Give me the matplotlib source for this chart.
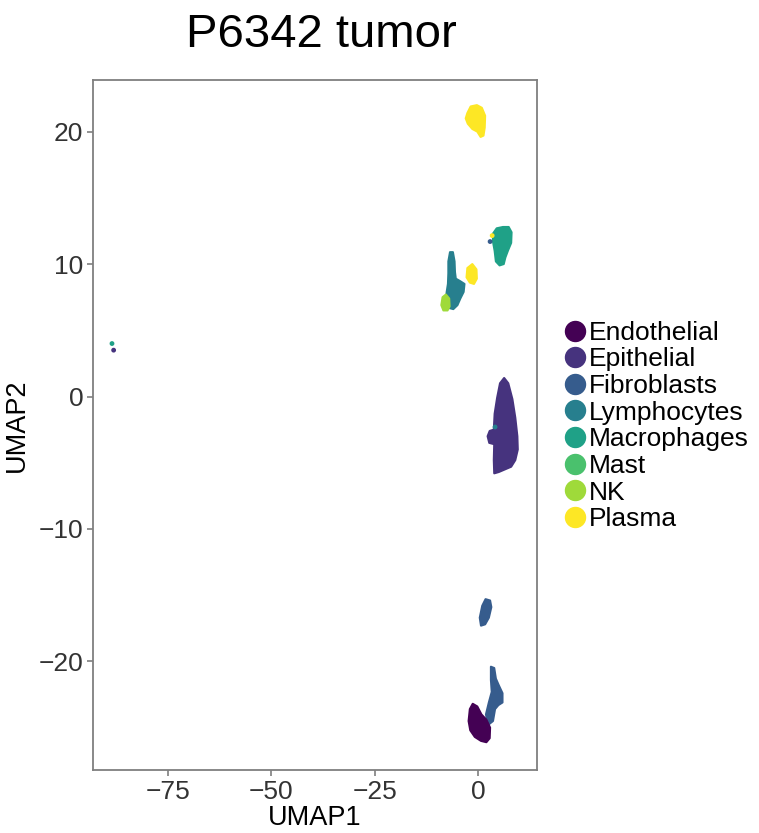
import matplotlib
matplotlib.use('Agg')
import matplotlib.pyplot as plt
from matplotlib.lines import Line2D

plt.rcParams['font.family'] = ['Liberation Sans', 'DejaVu Sans']

#Cell types and their viridis colours
cell_types = ['Endothelial', 'Epithelial', 'Fibroblasts', 'Lymphocytes',
              'Macrophages', 'Mast', 'NK', 'Plasma']
colors = ['#440154', '#46337E', '#365C8D', '#277F8E',
          '#1FA187', '#4AC16D', '#9FDA3A', '#FDE725']

#Cluster outlines (UMAP1, UMAP2)
plasma_top_x = [-2.6, -1.8, -0.3, 0.9, 1.7, 1.6, 1.3, 0.6, -0.2, -1.4, -2.5, -3.0]
plasma_top_y = [21.4, 21.9, 22.0, 21.8, 21.2, 20.3, 19.7, 19.6, 20.0, 20.2, 20.6, 21.0]

macro_x = [3.6, 4.5, 6.0, 7.4, 8.1, 8.0, 7.2, 6.6, 6.2, 5.2, 4.3, 4.0, 3.6]
macro_y = [12.3, 12.7, 12.8, 12.8, 12.4, 11.6, 11.0, 10.5, 10.0, 9.9, 10.2, 11.0, 11.7]

lymph_x = [-6.8, -6.1, -5.7, -5.6, -5.4, -4.3, -3.3, -3.5, -4.3, -5.0, -6.0, -7.2, -7.8, -7.6, -7.3, -7.2, -7.2]
lymph_y = [10.9, 10.9, 10.2, 9.4, 8.9, 8.7, 8.5, 7.9, 7.4, 6.9, 6.6, 6.7, 7.2, 7.9, 8.5, 9.3, 10.2]

nk_x = [-8.9, -8.6, -7.8, -7.0, -6.9, -7.4, -8.4]
nk_y = [6.9, 7.5, 7.7, 7.4, 6.8, 6.5, 6.5]

plasma_small_x = [-2.6, -1.4, -0.4, -0.3, -1.0, -2.0, -2.8]
plasma_small_y = [9.7, 10.0, 9.6, 8.9, 8.5, 8.6, 9.0]

epi_x = [6.3, 7.3, 8.3, 9.0, 9.5, 9.6, 9.0, 8.0, 6.5, 5.0, 3.9, 3.8, 3.9, 2.7, 2.3, 2.8, 3.8, 4.0, 4.6, 5.3]
epi_y = [1.4, 1.0, -0.2, -1.6, -3.0, -4.0, -4.8, -5.3, -5.5, -5.7, -5.8, -4.8, -3.6, -3.5, -3.0, -2.6, -2.5, -1.3, -0.1, 1.0]

fibro_small_x = [1.8, 2.9, 3.2, 2.6, 1.7, 0.7, 0.4, 1.0]
fibro_small_y = [-15.3, -15.4, -15.9, -16.7, -17.2, -17.3, -16.7, -15.8]

fibro_long_x = [3.1, 3.9, 4.3, 5.0, 5.9, 5.9, 4.9, 4.1, 3.6, 2.4, 1.9, 2.6, 3.3, 3.1]
fibro_long_y = [-20.4, -20.5, -21.3, -21.8, -22.4, -23.1, -23.3, -23.6, -24.5, -24.8, -24.0, -23.1, -22.3, -21.4]

endo_x = [-1.3, -0.2, 0.8, 2.0, 2.9, 2.8, 2.0, 0.7, -0.8, -1.9, -2.3, -2.0]
endo_y = [-23.2, -23.4, -24.0, -24.4, -25.0, -25.8, -26.1, -26.0, -25.7, -25.2, -24.5, -23.6]

#Single stray cells
speck_x = [-88.6, -88.2, 2.9, 3.4, 4.1]
speck_y = [4.0, 3.5, 11.7, 12.15, -2.3]
speck_type = ['Macrophages', 'Epithelial', 'Fibroblasts', 'Plasma', 'Lymphocytes']

blobs = [
    ('Plasma', plasma_top_x, plasma_top_y),
    ('Macrophages', macro_x, macro_y),
    ('Lymphocytes', lymph_x, lymph_y),
    ('NK', nk_x, nk_y),
    ('Plasma', plasma_small_x, plasma_small_y),
    ('Epithelial', epi_x, epi_y),
    ('Fibroblasts', fibro_small_x, fibro_small_y),
    ('Fibroblasts', fibro_long_x, fibro_long_y),
    ('Endothelial', endo_x, endo_y),
]

color_of = dict(zip(cell_types, colors))

fig = plt.figure(figsize=(7.59, 8.33), dpi=100)
ax = fig.add_axes([0.1225, 0.0756, 0.585, 0.8284])

for name, xs, ys in blobs:
    ax.fill(xs, ys, color=color_of[name], edgecolor=color_of[name],
            linewidth=1.5, joinstyle='round')

ax.scatter(speck_x, speck_y, c=[color_of[t] for t in speck_type], s=12, linewidths=0)

ax.set_xlim(-93.2, 14.25)
ax.set_ylim(-28.2, 23.9)
ax.set_xticks([-75, -50, -25, 0])
ax.set_yticks([-20, -10, 0, 10, 20])
ax.set_xticklabels(['\u221275', '\u221250', '\u221225', '0'])
ax.set_yticklabels(['\u221220', '\u221210', '0', '10', '20'])

for s in ax.spines.values():
    s.set_color('#7f7f7f')
    s.set_linewidth(1.3)
ax.tick_params(colors='#7f7f7f', labelcolor='#333333', labelsize=19,
               length=4, width=1.2, pad=3)

ax.set_xlabel('UMAP1', fontsize=19.5, labelpad=1)
ax.set_ylabel('UMAP2', fontsize=19.5, labelpad=6)
fig.text(0.423, 0.958, 'P6342 tumor', fontsize=34, ha='center', va='center')

#Legend with round keys
handles = [Line2D([], [], marker='o', linestyle='', markersize=14.4,
                  markerfacecolor=c, markeredgecolor=c) for c in colors]
fig.legend(handles, cell_types, loc='center left',
           bbox_to_anchor=(0.744, 1 - 426 / 833), frameon=False,
           fontsize=19, handlelength=0.75, handletextpad=0.15,
           labelspacing=0.1, borderpad=0, borderaxespad=0)

fig.savefig('out.png', dpi=100)
